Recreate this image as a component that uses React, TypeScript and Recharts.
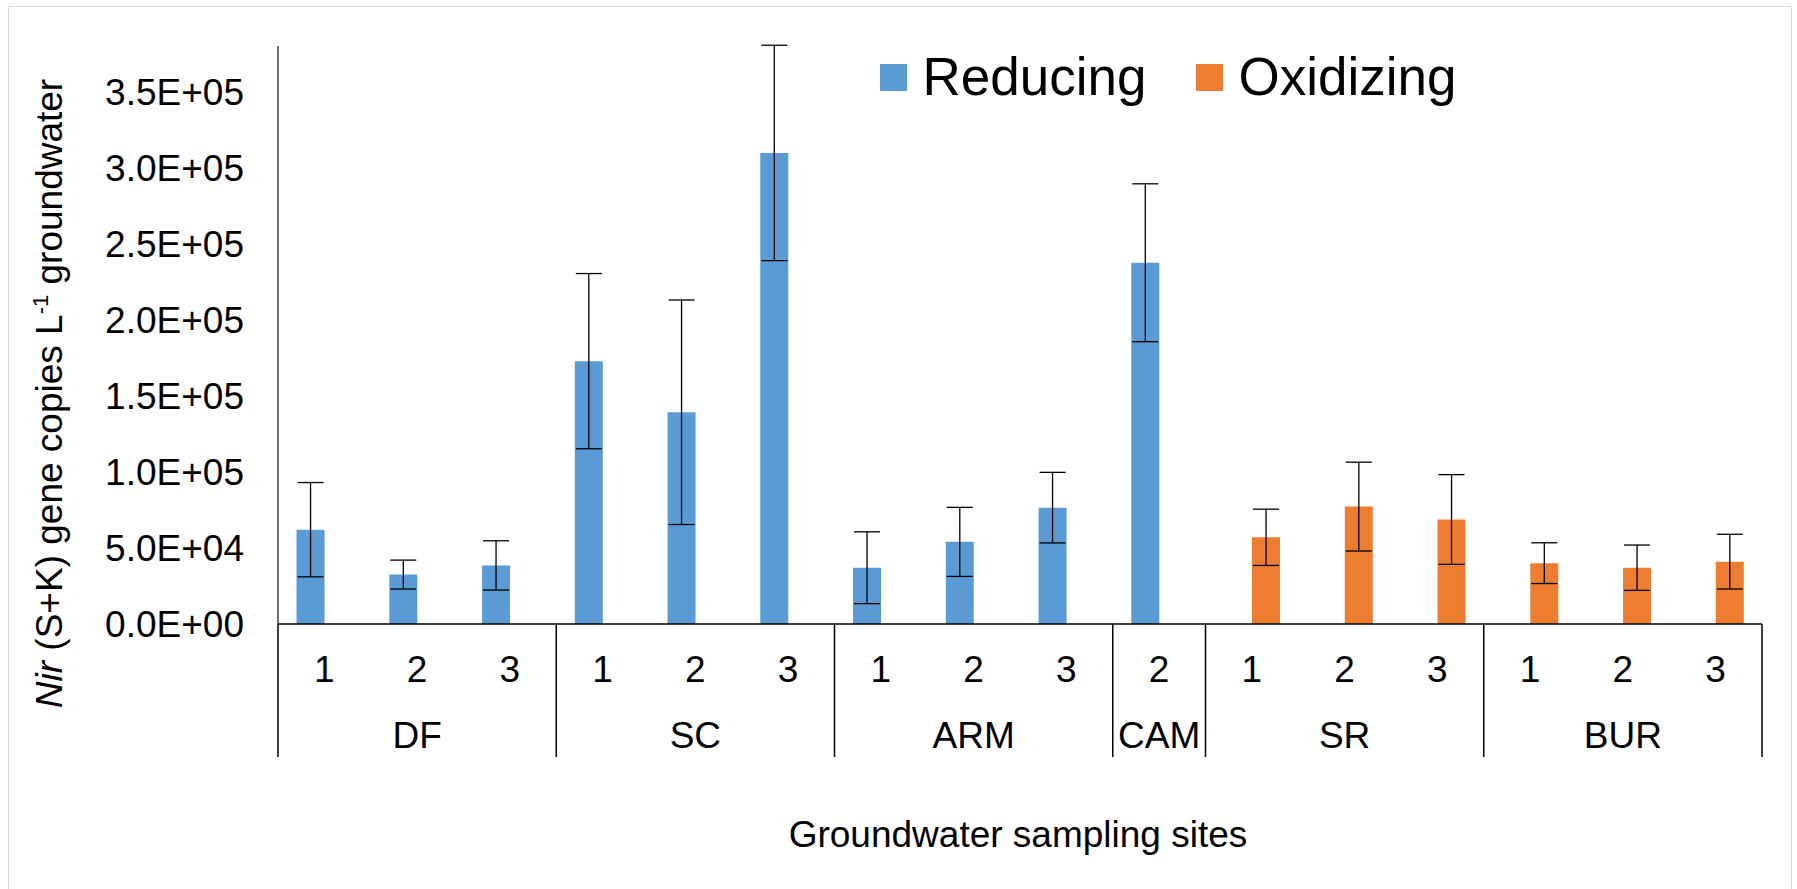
import { BarChart, Bar, XAxis, YAxis, ErrorBar, Legend } from 'recharts';

const sites = ['DF', 'DF', 'DF', 'SC', 'SC', 'SC', 'ARM', 'ARM', 'ARM', 'CAM', 'SR', 'SR', 'SR', 'BUR', 'BUR', 'BUR'];
const samples = ['1', '2', '3', '1', '2', '3', '1', '2', '3', '2', '1', '2', '3', '1', '2', '3'];
const seriesNames = ['Reducing', 'Oxidizing'];

const reducing = [62000, 32500, 38500, 172800, 139200, 309700, 37000, 54000, 76500, 237500, null, null, null, null, null, null];
const reducingErr = [31000, 9500, 16200, 57600, 73800, 70800, 23600, 22700, 23200, 51900, null, null, null, null, null, null];
const oxidizing = [null, null, null, null, null, null, null, null, null, null, 57000, 77200, 68700, 40000, 37000, 41000];
const oxidizingErr = [null, null, null, null, null, null, null, null, null, null, 18500, 29200, 29500, 13400, 14900, 18000];

const yTicks = [0, 50000, 100000, 150000, 200000, 250000, 300000, 350000];

const data = sites.map((s, i) => ({
  key: `${s}-${samples[i]}`,
  reducing: reducing[i],
  reducingErr: reducingErr[i],
  oxidizing: oxidizing[i],
  oxidizingErr: oxidizingErr[i],
}));

const W = 1797;
const H = 889;
const Y_AXIS_W = 278;
const MARGIN = { top: 46, right: 35, bottom: 0, left: 0 };
const X_AXIS_H = 265;
const PLOT_W = W - Y_AXIS_W - MARGIN.right;
const BAND = PLOT_W / sites.length;
const FONT = 'Liberation Sans, Arial, sans-serif';

const fmtSci = (v: number) => {
  if (v === 0) return '0.0E+00';
  const e = Math.floor(Math.log10(v));
  const m = v / Math.pow(10, e);
  return `${m.toFixed(1)}E+${String(e).padStart(2, '0')}`;
};

function SiteTick(props: any) {
  const { x, y, payload } = props;
  const i = data.findIndex((d) => d.key === payload.value);
  if (i < 0) return null;
  const site = sites[i];
  const first = i === 0 || sites[i - 1] !== site;
  const last = i === sites.length - 1;
  const count = sites.filter((s) => s === site).length;
  const half = BAND / 2;
  return (
    <g>
      <text x={x} y={y + 57.5} textAnchor="middle" fontSize={37} fill="#000" fontFamily={FONT}>
        {samples[i]}
      </text>
      {first && <line x1={x - half} x2={x - half} y1={y} y2={y + 133} stroke="#000" strokeWidth={1.5} />}
      {first && (
        <text x={x - half + count * half} y={y + 124} textAnchor="middle" fontSize={37} fill="#000" fontFamily={FONT}>
          {site}
        </text>
      )}
      {last && <line x1={x + half} x2={x + half} y1={y} y2={y + 133} stroke="#000" strokeWidth={1.5} />}
    </g>
  );
}

function YTitle(props: any) {
  const { viewBox } = props;
  const cx = 62;
  const cy = viewBox.y + 347.5;
  return (
    <text x={cx} y={cy} transform={`rotate(-90, ${cx}, ${cy})`} textAnchor="middle" fontSize={37} fill="#000" fontFamily={FONT}>
      <tspan fontStyle="italic">Nir</tspan>
      <tspan> (S+K) gene copies L</tspan>
      <tspan dy={-14} fontSize={22}>-1</tspan>
      <tspan dy={14}> groundwater</tspan>
    </text>
  );
}

function XTitle(props: any) {
  const { viewBox } = props;
  return (
    <text x={viewBox.x + viewBox.width / 2 - 2} y={viewBox.y + 223} textAnchor="middle" fontSize={37} fill="#000" fontFamily={FONT}>
      Groundwater sampling sites
    </text>
  );
}

const legendX = [880, 1196];

function LegendBox(props: any) {
  const items = [...(props.payload || [])].sort(
    (a: any, b: any) => seriesNames.indexOf(a.value) - seriesNames.indexOf(b.value)
  );
  return (
    <svg width={W} height={120} style={{ display: 'block' }}>
      {items.map((it: any, k: number) => (
        <g key={it.value}>
          <rect x={legendX[k]} y={64} width={27} height={27} fill={it.color} />
          <text x={legendX[k] + 42.5} y={95} fontSize={53} fill="#000" fontFamily={FONT}>
            {it.value}
          </text>
        </g>
      ))}
    </svg>
  );
}

export default function App() {
  return (
    <div style={{ position: 'absolute', left: 0, top: 0, width: W, height: H, background: '#fff', fontFamily: FONT, overflow: 'hidden' }}>
      <div
        style={{
          position: 'absolute',
          left: 8,
          top: 6,
          width: 1784,
          height: 892,
          border: '1.5px solid #d9d9d9',
          boxSizing: 'border-box',
        }}
      />
      <BarChart width={W} height={H} data={data} margin={MARGIN} barGap={0} barCategoryGap="20%">
        <XAxis
          dataKey="key"
          height={X_AXIS_H}
          interval={0}
          tickLine={false}
          tickSize={0}
          tickMargin={0}
          axisLine={{ stroke: '#000', strokeWidth: 1.5 }}
          tick={<SiteTick />}
          label={{ content: <XTitle /> }}
        />
        <YAxis
          width={Y_AXIS_W}
          domain={[0, 380000]}
          allowDataOverflow
          ticks={yTicks}
          tickFormatter={fmtSci}
          tickLine={false}
          tickSize={0}
          tickMargin={34}
          axisLine={{ stroke: '#404040', strokeWidth: 1.5 }}
          tick={{ fill: '#000', fontSize: 37, fontFamily: FONT }}
          label={{ content: <YTitle /> }}
        />
        <Legend
          layout="horizontal"
          verticalAlign="middle"
          align="center"
          content={<LegendBox />}
          wrapperStyle={{ position: 'absolute', left: 0, top: 0, width: W, height: 120 }}
        />
        <Bar dataKey="reducing" name="Reducing" fill="#5B9BD5" isAnimationActive={false}>
          <ErrorBar dataKey="reducingErr" width={13} stroke="#000" strokeWidth={1.3} direction="y" isAnimationActive={false} />
        </Bar>
        <Bar dataKey="oxidizing" name="Oxidizing" fill="#ED7D31" isAnimationActive={false}>
          <ErrorBar dataKey="oxidizingErr" width={13} stroke="#000" strokeWidth={1.3} direction="y" isAnimationActive={false} />
        </Bar>
      </BarChart>
    </div>
  );
}
